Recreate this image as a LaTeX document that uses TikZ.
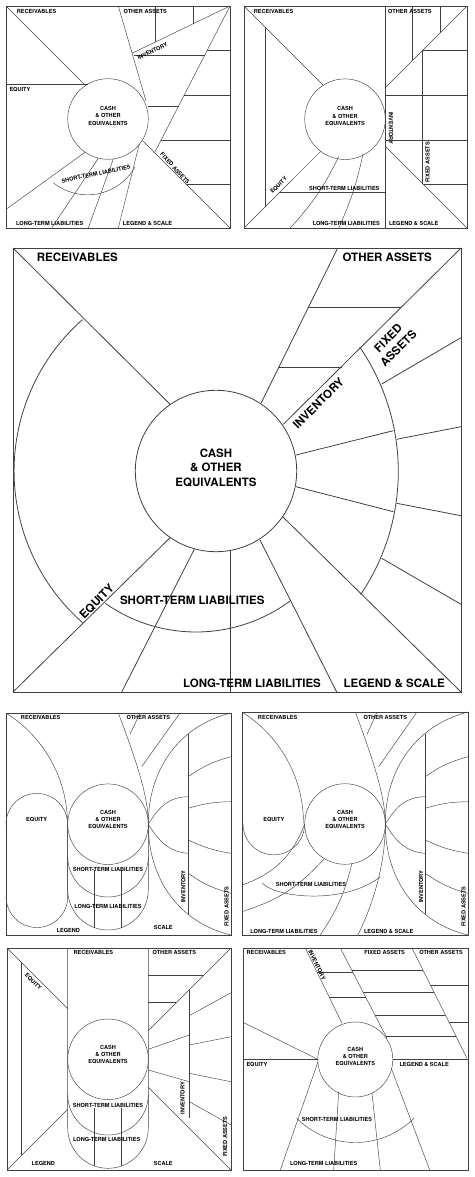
\documentclass[tikz,border=0pt]{standalone}
\usepackage{fontspec}
\setmainfont{TeX Gyre Heros}
\tikzset{
  pline/.style={draw=black!75, line width=0.45pt},
  bline/.style={draw=black!75, line width=0.8pt},
  slab/.style={font=\fontsize{5.6}{7.3}\selectfont\bfseries, inner sep=0pt, align=center},
  blab/.style={font=\fontsize{11.5}{14.5}\selectfont\bfseries, inner sep=0pt, align=center},
}
\begin{document}
\begin{tikzpicture}[x=1pt,y=-1pt]
\useasboundingbox (0,0) rectangle (474,1177);

% panel 1
\begin{scope}[pline]
\draw (6,6) rectangle (230,228);
\draw (108,119) circle (40.3);
\draw (6,6) -- (85.6,85.6);
\draw (6,84) -- (87.5,84);
\draw (118.3,6) -- (146,101);
\draw (230,6) -- (132,53.3);
\draw (155.7,6) -- (155.7,41.9);
\draw (193.3,6) -- (193.3,23.7);
\draw (230,6) -- (154.6,152.7);
\draw (133.5,55.7) -- (204.5,55.7);
\draw (207,50.7) -- (230,50.7);
\draw (184,95.7) -- (230,95.7);
\draw (147.6,106) -- (178.6,106);
\draw (161.1,140) -- (230,140);
\draw (186.1,184.3) -- (230,184.3);
\draw (85,152.3) -- (6,209.3);
\draw (98.3,158.3) -- (51.7,228);
\draw (113.3,159) -- (88.3,228);
\draw (139.3,144) -- (118.3,228);
\draw (142.7,140.7) -- (230,228);
\draw (87.5,140.4) ++(128.9:54.4) arc[start angle=128.9, end angle=29, radius=54.4];
\end{scope}
\node[slab, anchor=west] (p1rec) at (16.7,11) {RECEIVABLES};
\node[slab, anchor=west] (p1oth) at (123.3,11) {OTHER ASSETS};
\node[slab, anchor=west] (p1equ) at (9.3,89.3) {EQUITY};
\node[slab, anchor=west] (p1lon) at (16,223.3) {LONG-TERM LIABILITIES};
\node[slab, anchor=west] (p1leg) at (122.7,223.3) {LEGEND \& SCALE};
\node[slab, rotate=25] (p1inv) at (152.5,51) {INVENTORY};
\node[slab, rotate=-48] (p1fix) at (175,168.3) {FIXED ASSETS};
\node[slab, rotate=12] (p1sho) at (96,174) {SHORT-TERM LIABILITIES};
\node[slab] (p1cas) at (108,116) {CASH\\\& OTHER\\EQUIVALENTS};

% panel 2
\begin{scope}[pline]
\draw (244,6) rectangle (467,228);
\draw (345,119.2) circle (40.3);
\draw (244,6) -- (323.3,85.3);
\draw (244,228) -- (320.7,151.4);
\draw (265.3,27.3) -- (265.3,206.7);
\draw (279.3,192.7) -- (385.3,192.7);
\draw (338.7,156.7) to[bend left=8] (290.3,228);
\draw (363,154) to[bend left=6] (338.7,228);
\draw (385.3,6) -- (385.3,228);
\draw (467,6) -- (385.3,87.7);
\draw (467,228) -- (385.3,146.3);
\draw (412.7,6) -- (412.7,60.3);
\draw (440.3,6) -- (440.3,32.7);
\draw (422.7,50.3) -- (422.7,184.3);
\draw (422.7,50.3) -- (467,50.3);
\draw (385.3,95.7) -- (467,95.7);
\draw (385.3,140) -- (467,140);
\draw (422.7,184.3) -- (467,184.3);
\end{scope}
\node[slab, anchor=west] (p2rec) at (253.7,11) {RECEIVABLES};
\node[slab, anchor=west] (p2oth) at (388,11) {OTHER ASSETS};
\node[slab, rotate=45] (p2equ) at (278.7,185) {EQUITY};
\node[slab] (p2sho) at (344.3,188.3) {SHORT-TERM LIABILITIES};
\node[slab] (p2lon) at (346.3,223.3) {LONG-TERM LIABILITIES};
\node[slab] (p2leg) at (413.7,223.3) {LEGEND \& SCALE};
\node[slab, rotate=-90] (p2inv) at (391,128.3) {INVENTORY};
\node[slab, rotate=90] (p2fix) at (427.7,162.3) {FIXED ASSETS};
\node[slab] (p2cas) at (345,116.2) {CASH\\\& OTHER\\EQUIVALENTS};

% panel 3 (large)
\begin{scope}[bline]
\draw (13,248) rectangle (461,692);
\draw (216,471) circle (80.7);
\draw (13,248) -- (170.3,404.5);
\draw (82.5,622.6) arc[start angle=131.4, end angle=228.6, radius=202];
\draw (13,692) -- (170.3,537.5);
\draw (290,601) arc[start angle=53.5, end angle=125.1, radius=158];
\draw (194.3,549.3) -- (121.7,692);
\draw (230,550.5) -- (230,692);
\draw (260,540) -- (336.7,692);
\draw (282.7,516.7) -- (461,692);
\draw (359.6,346.9) arc[start angle=-34.5, end angle=34, radius=220];
\draw (461,248) -- (283.3,424.3);
\draw (337.7,248) -- (261,403.3);
\draw (308.2,307.7) -- (401.3,307.7);
\draw (279,367) -- (342,367);
\draw (296,455) -- (393.3,430.7);
\draw (396.7,439.3) -- (461,426.7);
\draw (296,486.7) -- (393.3,511.7);
\draw (396.7,503.3) -- (461,515.7);
\draw (381.7,384) -- (461,337.7);
\draw (381.7,558.3) -- (461,604.3);
\end{scope}
\node[blab, anchor=west] (p3rec) at (36.7,257.3) {RECEIVABLES};
\node[blab, anchor=west] (p3oth) at (342.3,257.3) {OTHER ASSETS};
\node[blab] (p3cas) at (216,467.7) {CASH\\\& OTHER\\EQUIVALENTS};
\node[blab, rotate=45] (p3inv) at (318.3,403.3) {INVENTORY};
\node[blab, rotate=45] (p3fix) at (393.3,343.3) {FIXED\\ASSETS};
\node[blab, rotate=45] (p3equ) at (96.7,601.7) {EQUITY};
\node[blab] (p3sho) at (192.3,600) {SHORT-TERM LIABILITIES};
\node[blab] (p3lon) at (252,683.3) {LONG-TERM LIABILITIES};
\node[blab] (p3leg) at (394.2,683.3) {LEGEND \& SCALE};

% panel 4
\begin{scope}[pline]
\draw (6,713) rectangle (231,935);
\draw (108,824.2) circle (40.3);
\draw (6,824.2) arc[start angle=180, end angle=360, radius=30.8] -- (67.7,896.7)
  arc[start angle=0, end angle=180, radius=30.8];
\draw (67.7,824.2) -- (67.7,889.7) arc[start angle=180, end angle=0, radius=40.3] -- (148.3,824.2);
\draw (67.7,856.7) arc[start angle=180, end angle=0, radius=40.3];
\draw (94.3,870) -- (94.3,927.6);
\draw (121,870) -- (121,927.8);
\draw (6,713) arc[start angle=-57.9, end angle=0, radius=131.3];
\draw (118.3,713) .. controls (140,770) and (148.3,800) .. (148.3,824.2)
  .. controls (148.3,880) and (180,923) .. (231,935);
\draw (148.3,824.2) .. controls (148.3,768.4) and (180,725.4) .. (231,713);
\draw (130,734.3) -- (140,713);
\draw (141.7,766.7) -- (180,713);
\draw (188.3,733.9) -- (188.3,914.5);
\draw (148.3,824.2) .. controls (160,805) and (170,797) .. (188.3,796.7);
\draw (148.3,824.2) .. controls (160,843) and (170,852) .. (188.3,853.3);
\draw (188.3,776.7) to[bend left=10] (231,756.7);
\draw (188.3,808.3) to[bend left=8] (231,801.7);
\draw (188.3,840) to[bend right=8] (231,853.3);
\draw (188.3,873.3) to[bend right=10] (231,893.3);
\end{scope}
\node[slab] (p4rec) at (40.7,717.7) {RECEIVABLES};
\node[slab] (p4oth) at (148.3,717.7) {OTHER ASSETS};
\node[slab] (p4equ) at (36.7,819.3) {EQUITY};
\node[slab] (p4cas) at (108,819.7) {CASH\\\& OTHER\\EQUIVALENTS};
\node[slab] (p4sho) at (108,869) {SHORT-TERM LIABILITIES};
\node[slab] (p4lon) at (108,906) {LONG-TERM LIABILITIES};
\node[slab] (p4leg) at (68.3,930) {LEGEND};
\node[slab] (p4sca) at (163.3,927.7) {SCALE};
\node[slab, rotate=90] (p4inv) at (183.3,886.7) {INVENTORY};
\node[slab, rotate=90] (p4fix) at (226.7,906.7) {FIXED ASSETS};

% panel 5
\begin{scope}[pline]
\draw (242,712) rectangle (468,935);
\draw (345,824) circle (40.3);
\draw (242,712) arc[start angle=-57.9, end angle=0, radius=131.3];
\draw (243,824) arc[start angle=180, end angle=0, radius=30.8];
\draw (355.3,712) .. controls (377,770) and (385.3,800) .. (385.3,824)
  .. controls (385.3,870) and (370,910) .. (358,935);
\draw (385.3,824) .. controls (385.3,768) and (417,725) .. (468,712);
\draw (385.3,824) .. controls (385.3,880) and (417,923) .. (468,935);
\draw (367,734.3) -- (377,712);
\draw (378.7,766.7) -- (417,712);
\draw (425.3,733.7) -- (425.3,914.3);
\draw (385.3,824) .. controls (397,805) and (407,797) .. (425.3,796.7);
\draw (385.3,824) .. controls (397,843) and (407,852) .. (425.3,853.3);
\draw (425.3,776.7) to[bend left=10] (468,756.7);
\draw (425.3,808.3) to[bend left=8] (468,801.7);
\draw (425.3,840) to[bend right=8] (468,853.3);
\draw (425.3,873.3) to[bend right=10] (468,893.3);
\draw (304.7,824) to[bend left=25] (242,885);
\draw (323.7,859.3) to[bend left=15] (242,911.7);
\draw (352,863.3) to[bend left=10] (320.3,935);
\draw (262,882.7) .. controls (275,898) and (345,905) .. (380.3,876.7);
\end{scope}
\node[slab] (p5rec) at (277.7,717.3) {RECEIVABLES};
\node[slab] (p5oth) at (385.3,717.3) {OTHER ASSETS};
\node[slab] (p5equ) at (273.8,819.3) {EQUITY};
\node[slab] (p5cas) at (345,819.7) {CASH\\\& OTHER\\EQUIVALENTS};
\node[slab] (p5sho) at (311,884) {SHORT-TERM LIABILITIES};
\node[slab] (p5lon) at (284,931) {LONG-TERM LIABILITIES};
\node[slab] (p5leg) at (388.7,931) {LEGEND \& SCALE};
\node[slab, rotate=90] (p5inv) at (421,886.7) {INVENTORY};
\node[slab, rotate=90] (p5fix) at (463.7,906.7) {FIXED ASSETS};

% panel 6
\begin{scope}[pline]
\draw (7,948) rectangle (231,1170);
\draw (108,1059.3) circle (40.3);
\draw (67.7,948) -- (67.7,1128) arc[start angle=180, end angle=0, radius=40.3] -- (148.3,948);
\draw (67.7,1094.7) arc[start angle=180, end angle=0, radius=40.3];
\draw (94.3,1108) -- (94.3,1165.9);
\draw (121,1108) -- (121,1166);
\draw (7,948) -- (67.7,1008.7);
\draw (7,1170) -- (67.7,1109.3);
\draw (21.7,962.7) -- (21.7,1155.3);
\draw (231,948) -- (148.3,1030.7);
\draw (231,1170) -- (148.3,1087.3);
\draw (148.3,975.7) -- (203.3,975.7);
\draw (148.3,1002.7) -- (176.3,1002.7);
\draw (189.3,989.7) -- (189.3,1117.7);
\draw (148.3,1049.3) -- (189.3,1035);
\draw (148.3,1070) -- (189.3,1081.7);
\draw (189.3,1015.7) -- (231,992.7);
\draw (189.3,1045) -- (231,1036.7);
\draw (189.3,1073.3) -- (231,1081.7);
\draw (189.3,1101.7) -- (231,1125);
\end{scope}
\node[slab] (p6rec) at (93.3,952.7) {RECEIVABLES};
\node[slab] (p6oth) at (174.3,952.7) {OTHER ASSETS};
\node[slab, rotate=-45] (p6equ) at (33.3,981.7) {EQUITY};
\node[slab] (p6cas) at (108,1054.7) {CASH\\\& OTHER\\EQUIVALENTS};
\node[slab] (p6sho) at (108,1105) {SHORT-TERM LIABILITIES};
\node[slab] (p6lon) at (106.7,1139) {LONG-TERM LIABILITIES};
\node[slab] (p6leg) at (43.3,1163.3) {LEGEND};
\node[slab] (p6sca) at (163.3,1163.3) {SCALE};
\node[slab, rotate=90] (p6inv) at (182.7,1098.3) {INVENTORY};
\node[slab, rotate=90] (p6fix) at (225,1136.7) {FIXED ASSETS};

% panel 7
\begin{scope}[pline]
\draw (243,948) rectangle (468,1170);
\draw (355.3,1059.5) circle (37.5);
\draw (243,1059.3) -- (317.8,1059.3);
\draw (392.8,1059.3) -- (468,1059.3);
\draw (243,1022.3) -- (317.8,1059.3);
\draw (305.3,948) -- (342,1023.3);
\draw (340.3,948) -- (387,1038.3);
\draw (412,948) -- (467,1058.3);
\draw (317,972.3) -- (352.7,972.3);
\draw (329.3,997.3) -- (365.7,997.3);
\draw (351.6,970) -- (422.8,970);
\draw (363.2,992.3) -- (434,992.3);
\draw (374.9,1015) -- (445.3,1015);
\draw (386.2,1036.7) -- (456.2,1036.7);
\draw (430.3,985) -- (468,985);
\draw (449,1022.3) -- (468,1022.3);
\draw (318,1061.7) -- (280.3,1170);
\draw (338.7,1091.7) -- (333.7,1170);
\draw (372,1093.3) -- (380.3,1170);
\draw (391.3,1068.3) -- (429.7,1170);
\draw (414,1118.2) arc[start angle=45, end angle=135, radius=83];
\end{scope}
\node[slab, anchor=west] (p7rec) at (246.3,952.7) {RECEIVABLES};
\node[slab, rotate=-64] (p7inv) at (317,965) {INVENTORY};
\node[slab] (p7fix) at (384.7,952.7) {FIXED ASSETS};
\node[slab] (p7oth) at (441,952.7) {OTHER ASSETS};
\node[slab, anchor=west] (p7equ) at (246.3,1064.3) {EQUITY};
\node[slab, anchor=west] (p7leg) at (399.3,1064.3) {LEGEND \& SCALE};
\node[slab] (p7cas) at (355.3,1056.5) {CASH\\\& OTHER\\EQUIVALENTS};
\node[slab] (p7sho) at (337,1119.3) {SHORT-TERM LIABILITIES};
\node[slab] (p7lon) at (323.7,1163.3) {LONG-TERM LIABILITIES};
\end{tikzpicture}
\end{document}
